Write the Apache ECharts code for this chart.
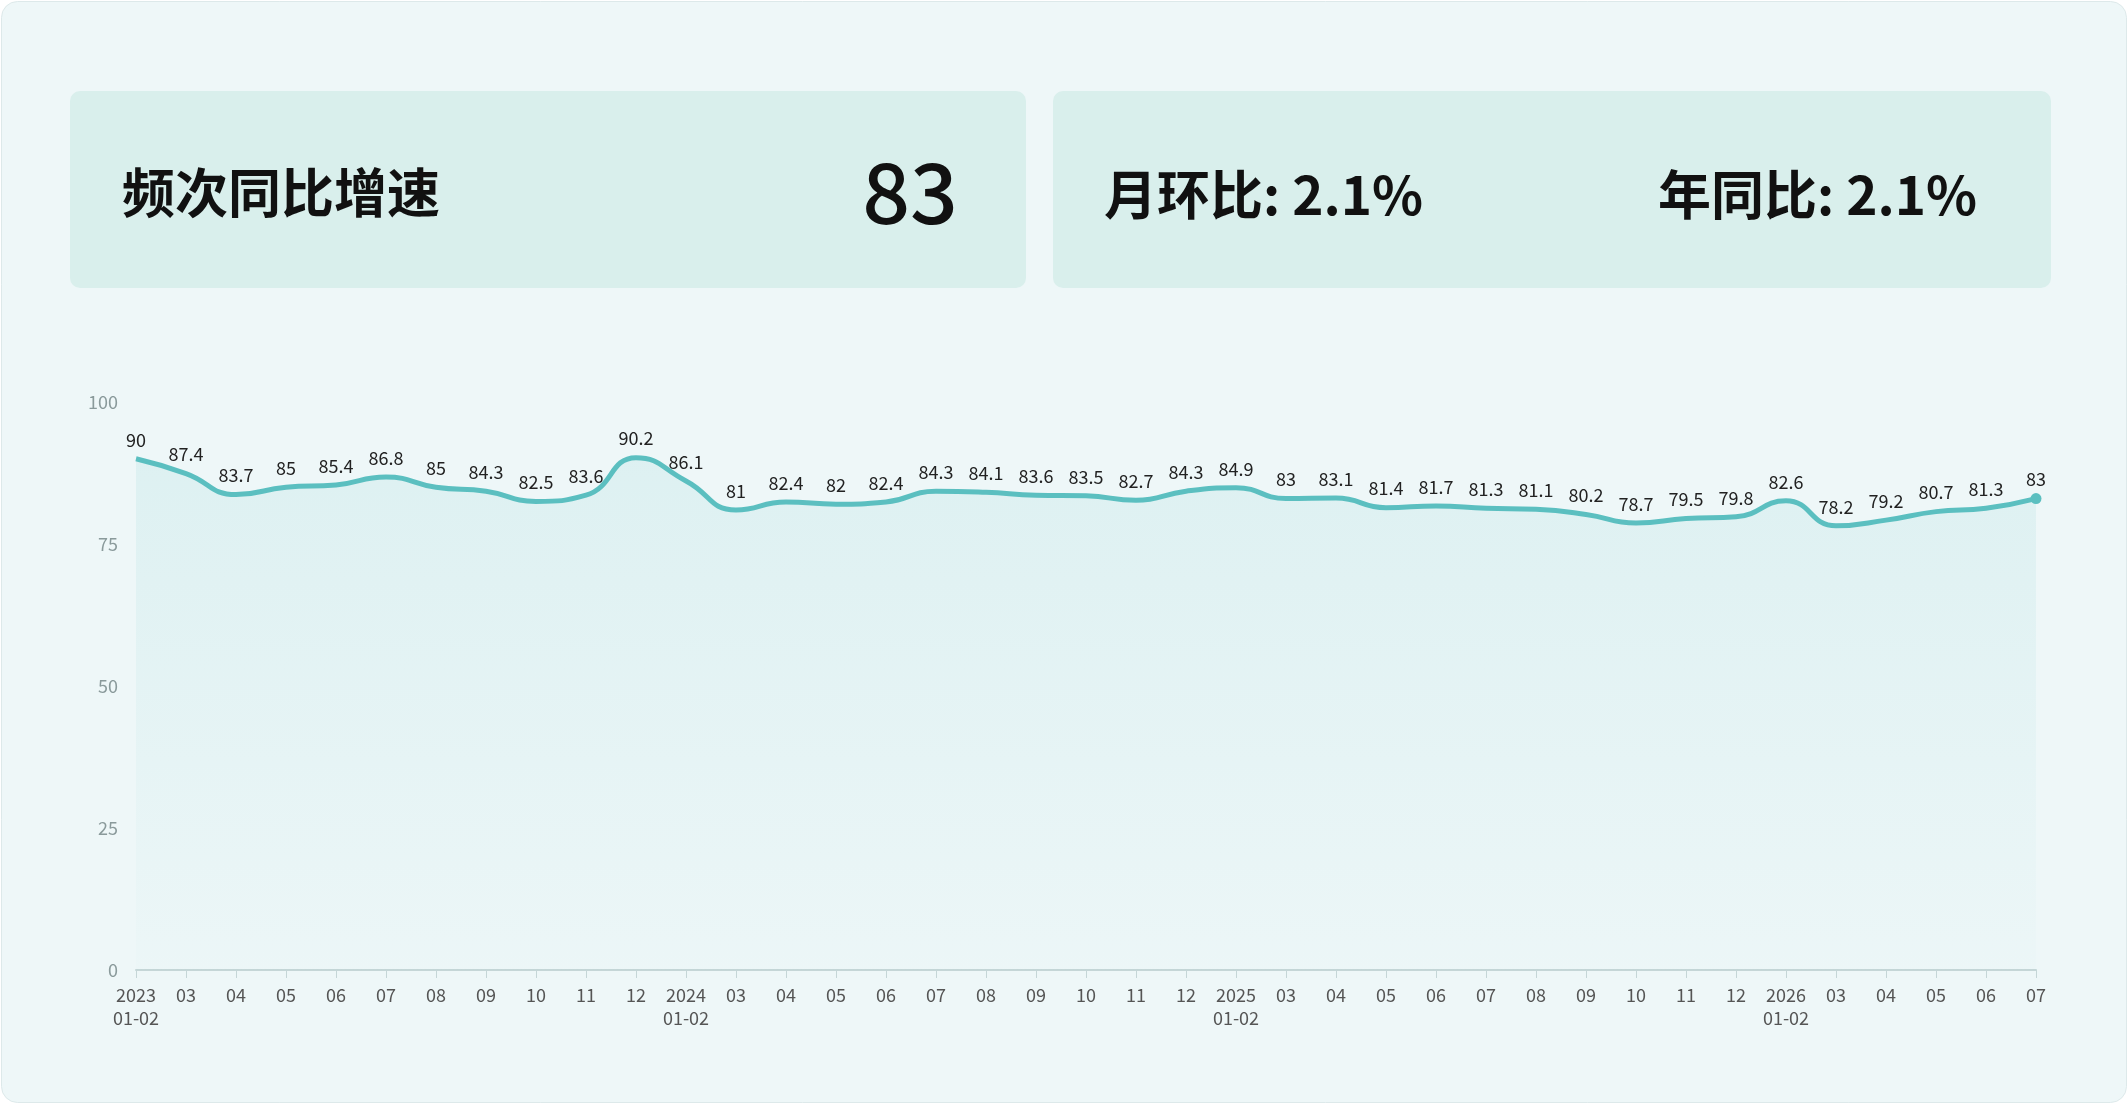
<!DOCTYPE html><html><head><meta charset="utf-8">
<script src="https://cdn.jsdelivr.net/npm/echarts@6/dist/echarts.min.js"></script>
<style>html,body{margin:0;padding:0;background:#fff}#c{width:2127px;height:1103px}</style></head><body><div id="c"></div>
<script>
const categories=['2023\n01-02','03','04','05','06','07','08','09','10','11','12','2024\n01-02','03','04','05','06','07','08','09','10','11','12','2025\n01-02','03','04','05','06','07','08','09','10','11','12','2026\n01-02','03','04','05','06','07'];
const values=[90,87.4,83.7,85,85.4,86.8,85,84.3,82.5,83.6,90.2,86.1,81,82.4,82,82.4,84.3,84.1,83.6,83.5,82.7,84.3,84.9,83,83.1,81.4,81.7,81.3,81.1,80.2,78.7,79.5,79.8,82.6,78.2,79.2,80.7,81.3,83];
const yTicks=[0,25,50,75,100];
const kpiTitle='频次同比增速', kpiValue='83', momText='月环比: 2.1%', yoyText='年同比: 2.1%';
const font='"Noto Sans CJK SC","Noto Sans",sans-serif';
const chart=echarts.init(document.getElementById('c'));
chart.setOption({
 backgroundColor:'#fff',
 graphic:[
  {type:'rect',left:1,top:1,shape:{width:2125,height:1101,r:16},style:{fill:'#eef7f8',stroke:'#dde9ea',lineWidth:1},z:-10},
  {type:'rect',left:70,top:91,shape:{width:956,height:197,r:10},style:{fill:'#d9efec'},z:-5},
  {type:'rect',left:1053,top:91,shape:{width:998,height:197,r:10},style:{fill:'#d9efec'},z:-5},
  {type:'text',left:122,top:166,style:{text:kpiTitle,font:'bold 53px '+font,fill:'#111'}},
  {type:'text',right:2127-958,top:150,style:{text:kpiValue,font:'500 84px '+font,fill:'#111',align:'right'}},
  {type:'text',left:1104,top:168,style:{text:momText,font:'bold 53px '+font,fill:'#111'}},
  {type:'text',left:1658,top:168,style:{text:yoyText,font:'bold 53px '+font,fill:'#111'}}
 ],
 grid:{left:136,right:91,top:402,bottom:133},
 xAxis:{type:'category',data:categories,boundaryGap:false,
  axisLine:{lineStyle:{color:'#c5d6d7',width:2}},axisTick:{show:true,alignWithLabel:true,length:8,lineStyle:{color:'#c5d6d7'}},
  axisLabel:{interval:0,color:'#555',fontSize:18,fontFamily:font,margin:14,lineHeight:23}},
 yAxis:{type:'value',min:0,max:100,interval:25,splitLine:{show:false},axisLine:{show:false},axisTick:{show:false},
  axisLabel:{color:'#8a9a9b',fontSize:18,fontFamily:font,margin:18}},
 series:[{type:'line',data:values,smooth:0.5,
  symbol:'circle',symbolSize:0.1,showSymbol:true,
  itemStyle:{color:'#5bbfc0'},
  lineStyle:{color:'#5bbfc0',width:5},
  label:{show:true,position:'top',color:'#222',fontSize:18,fontFamily:font,distance:10},
  areaStyle:{color:new echarts.graphic.LinearGradient(0,0,0,1,[{offset:0,color:'rgba(91,191,192,0.16)'},{offset:1,color:'rgba(91,191,192,0.02)'}])},
  markPoint:{symbol:'circle',symbolSize:11,itemStyle:{color:'#5bbfc0'},label:{show:false},data:[{coord:[categories.length-1,values[values.length-1]]}]}
 }]
});
</script></body></html>
